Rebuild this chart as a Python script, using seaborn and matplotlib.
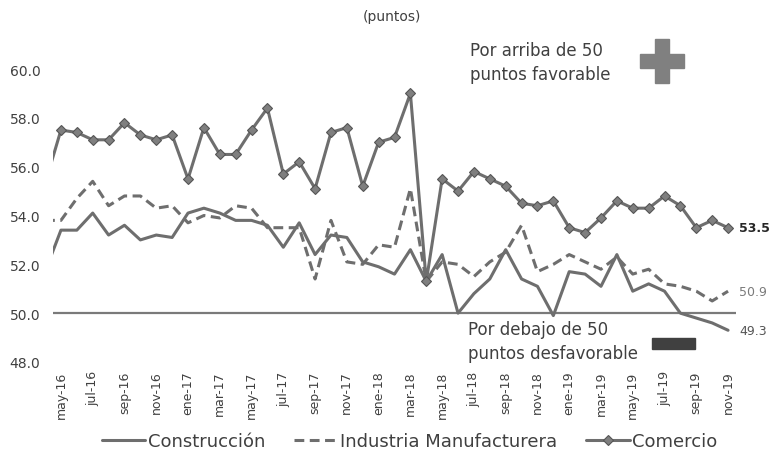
import matplotlib.pyplot as plt
import matplotlib.patches as mpatches
import numpy as np
import pandas as pd
import seaborn as sns

# Meses (el primero, abr-16, solo aparece recortado en el borde izquierdo)
meses = ['abr-16',
         'may-16', 'jun-16', 'jul-16', 'ago-16', 'sep-16', 'oct-16', 'nov-16', 'dic-16',
         'ene-17', 'feb-17', 'mar-17', 'abr-17', 'may-17', 'jun-17', 'jul-17', 'ago-17',
         'sep-17', 'oct-17', 'nov-17', 'dic-17', 'ene-18', 'feb-18', 'mar-18', 'abr-18',
         'may-18', 'jun-18', 'jul-18', 'ago-18', 'sep-18', 'oct-18', 'nov-18', 'dic-18',
         'ene-19', 'feb-19', 'mar-19', 'abr-19', 'may-19', 'jun-19', 'jul-19', 'ago-19',
         'sep-19', 'oct-19', 'nov-19']

construccion = [51.7,
                53.4, 53.4, 54.1, 53.2, 53.6, 53.0, 53.2, 53.1, 54.1, 54.3,
                54.1, 53.8, 53.8, 53.6, 52.7, 53.7, 52.4, 53.2, 53.1, 52.1,
                51.9, 51.6, 52.6, 51.3, 52.4, 50.0, 50.8, 51.4, 52.6, 51.4,
                51.1, 49.9, 51.7, 51.6, 51.1, 52.4, 50.9, 51.2, 50.9, 50.0,
                49.8, 49.6, 49.3]

industria = [53.8,
             53.8, 54.7, 55.4, 54.4, 54.8, 54.8, 54.3, 54.4, 53.7, 54.0,
             53.9, 54.4, 54.3, 53.5, 53.5, 53.5, 51.4, 53.8, 52.1, 52.0,
             52.8, 52.7, 55.1, 51.3, 52.1, 52.0, 51.5, 52.1, 52.5, 53.6,
             51.7, 52.0, 52.4, 52.1, 51.8, 52.3, 51.6, 51.8, 51.2, 51.1,
             50.9, 50.5, 50.9]

comercio = [55.3,
            57.5, 57.4, 57.1, 57.1, 57.8, 57.3, 57.1, 57.3, 55.5, 57.6,
            56.5, 56.5, 57.5, 58.4, 55.7, 56.2, 55.1, 57.4, 57.6, 55.2,
            57.0, 57.2, 59.0, 51.3, 55.5, 55.0, 55.8, 55.5, 55.2, 54.5,
            54.4, 54.6, 53.5, 53.3, 53.9, 54.6, 54.3, 54.3, 54.8, 54.4,
            53.5, 53.8, 53.5]

df = pd.DataFrame({'mes': meses,
                   'Construcción': construccion,
                   'Industria Manufacturera': industria,
                   'Comercio': comercio})
df['pos'] = np.arange(len(df)) - 1  # may-16 en la posición 0

sns.set_theme(style='white')
plt.rcParams['font.family'] = ['DejaVu Sans']

gris = '#6e6e6e'
texto = '#404040'

W, H = 770, 464
fig = plt.figure(figsize=(W / 100, H / 100), dpi=100)
ax = fig.add_axes([53 / W, 1 - 363 / H, (736 - 53) / W, (363 - 70) / H])

# Línea de referencia en 50
ax.axhline(50, color='#7a7a7a', lw=1.6, zorder=1)

sns.lineplot(data=df, x='pos', y='Construcción', ax=ax, color=gris, lw=2.2,
             label='Construcción')
sns.lineplot(data=df, x='pos', y='Industria Manufacturera', ax=ax, color=gris, lw=2.2,
             linestyle=(0, (3.2, 1.8)), label='Industria Manufacturera')
sns.lineplot(data=df, x='pos', y='Comercio', ax=ax, color=gris, lw=2.2,
             marker='D', markersize=5, markerfacecolor='#7f7f7f',
             markeredgecolor='#555555', markeredgewidth=0.8, label='Comercio')

ax.set_xlim(-0.5, 42.5)
ax.set_ylim(48, 60)

ticks = df['pos'][1::2]
ax.set_xticks(ticks)
ax.set_xticklabels(df['mes'][1::2], rotation=90, fontsize=9, color=texto)
ax.set_yticks(np.arange(48, 61, 2))
ax.set_yticklabels([f'{v:.1f}' for v in np.arange(48, 61, 2)], fontsize=10, color=texto)
ax.tick_params(axis='both', length=0)
ax.tick_params(axis='y', pad=9)
ax.tick_params(axis='x', pad=6)
ax.set_xlabel('')
ax.set_ylabel('')
for s in ax.spines.values():
    s.set_visible(False)

# Etiquetas del último dato
ultimo = df['pos'].iloc[-1]
ax.annotate(f'{comercio[-1]:.1f}', xy=(ultimo, comercio[-1]), xytext=(8, 0),
            textcoords='offset points', ha='left', va='center', fontsize=9,
            fontweight='bold', color='#262626', annotation_clip=False)
ax.annotate(f'{industria[-1]:.1f}', xy=(ultimo, industria[-1]), xytext=(8, 0),
            textcoords='offset points', ha='left', va='center', fontsize=9,
            color='#7a7a7a', annotation_clip=False)
ax.annotate(f'{construccion[-1]:.1f}', xy=(ultimo, construccion[-1]), xytext=(8, 0),
            textcoords='offset points', ha='left', va='center', fontsize=9,
            color='#555555', annotation_clip=False)

# Textos y decoraciones
fig.text(392 / W, 1 - 17 / H, '(puntos)', ha='center', va='center', fontsize=10, color=texto)
fig.text(470 / W, 1 - 63 / H, 'Por arriba de 50\npuntos favorable', ha='left', va='center',
         fontsize=12, color=texto, linespacing=1.4)
fig.text(468 / W, 1 - 342 / H, 'Por debajo de 50\npuntos desfavorable', ha='left', va='center',
         fontsize=12, color=texto, linespacing=1.4)

# Signo "+" y barra "-"
fig.patches.append(mpatches.Rectangle((655 / W, 1 - 84 / H), 14 / W, 44 / H,
                                      transform=fig.transFigure, color='#808080'))
fig.patches.append(mpatches.Rectangle((640 / W, 1 - 69 / H), 44 / W, 14 / H,
                                      transform=fig.transFigure, color='#808080'))
fig.patches.append(mpatches.Rectangle((652 / W, 1 - 350 / H), 43 / W, 11 / H,
                                      transform=fig.transFigure, color='#404040'))

# Leyenda
ax.get_legend().remove()
handles, labels = ax.get_legend_handles_labels()
leg = fig.legend(handles, labels, loc='center', bbox_to_anchor=(0.532, 1 - 442 / H),
                 ncol=3, frameon=False, fontsize=13, handlelength=2.4,
                 handletextpad=0.15, columnspacing=1.6)
for t in leg.get_texts():
    t.set_color(texto)

fig.savefig('out.png', dpi=100)
